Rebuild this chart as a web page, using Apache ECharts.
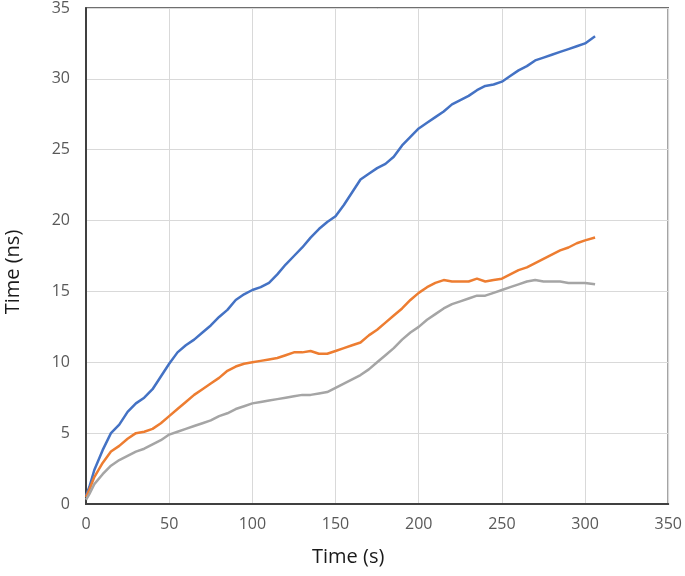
<!DOCTYPE html>
<html>
<head>
<meta charset="utf-8">
<script src="https://cdn.jsdelivr.net/npm/echarts@6/dist/echarts.min.js"></script>
<style>
  html, body { margin: 0; padding: 0; background: #fff; }
</style>
</head>
<body>
<div id="chart" style="width:685px;height:576px;"></div>
<script>
// time axis (s), shared by all three curves
const times = [0, 2, 5, 10, 15, 20, 25, 30, 35, 40, 45, 50, 55, 60, 65, 70, 75, 80, 85, 90, 95,
  100, 105, 110, 115, 120, 125, 130, 135, 140, 145, 150, 155, 160, 165, 170, 175, 180, 185, 190, 195,
  200, 205, 210, 215, 220, 225, 230, 235, 240, 245, 250, 255, 260, 265, 270, 275, 280, 285, 290, 295,
  300, 306]

const blueValues = [0.6, 1.2, 2.4, 3.8, 5.0, 5.6, 6.5, 7.1, 7.5, 8.1, 9.0, 9.9, 10.7, 11.2, 11.6, 12.1, 12.6, 13.2, 13.7, 14.4, 14.8,
  15.1, 15.3, 15.6, 16.2, 16.9, 17.5, 18.1, 18.8, 19.4, 19.9, 20.3, 21.1, 22.0, 22.9, 23.3, 23.7, 24.0, 24.5, 25.3, 25.9,
  26.5, 26.9, 27.3, 27.7, 28.2, 28.5, 28.8, 29.2, 29.5, 29.6, 29.8, 30.2, 30.6, 30.9, 31.3, 31.5, 31.7, 31.9, 32.1, 32.3,
  32.5, 33.0]

const orangeValues = [0.5, 1.0, 1.9, 2.9, 3.7, 4.1, 4.6, 5.0, 5.1, 5.3, 5.7, 6.2, 6.7, 7.2, 7.7, 8.1, 8.5, 8.9, 9.4, 9.7, 9.9,
  10.0, 10.1, 10.2, 10.3, 10.5, 10.7, 10.7, 10.8, 10.6, 10.6, 10.8, 11.0, 11.2, 11.4, 11.9, 12.3, 12.8, 13.3, 13.8, 14.4,
  14.9, 15.3, 15.6, 15.8, 15.7, 15.7, 15.7, 15.9, 15.7, 15.8, 15.9, 16.2, 16.5, 16.7, 17.0, 17.3, 17.6, 17.9, 18.1, 18.4,
  18.6, 18.8]

const grayValues = [0.3, 0.7, 1.4, 2.1, 2.7, 3.1, 3.4, 3.7, 3.9, 4.2, 4.5, 4.9, 5.1, 5.3, 5.5, 5.7, 5.9, 6.2, 6.4, 6.7, 6.9,
  7.1, 7.2, 7.3, 7.4, 7.5, 7.6, 7.7, 7.7, 7.8, 7.9, 8.2, 8.5, 8.8, 9.1, 9.5, 10.0, 10.5, 11.0, 11.6, 12.1,
  12.5, 13.0, 13.4, 13.8, 14.1, 14.3, 14.5, 14.7, 14.7, 14.9, 15.1, 15.3, 15.5, 15.7, 15.8, 15.7, 15.7, 15.7, 15.6, 15.6,
  15.6, 15.5]

const colors = ['#4472C4', '#ED7D31', '#A5A5A5']

function pairs (vals) {
  return times.map((t, i) => [t, vals[i]])
}

const chart = echarts.init(document.getElementById('chart'))
const labelFont = { color: '#595959', fontSize: 16, fontFamily: 'Open Sans' }

const option = {
  animation: false,
  grid: {
    left: 86, right: 13, top: 7, bottom: 72,
    show: true,
    borderColor: '#404040',
    borderWidth: 1.5
  },
  xAxis: {
    type: 'value',
    min: 0,
    max: 350,
    interval: 50,
    axisLine: { show: true, lineStyle: { color: '#404040', width: 2 } },
    axisTick: { show: false },
    axisLabel: Object.assign({ margin: 12 }, labelFont),
    splitLine: { show: true, lineStyle: { color: '#d9d9d9', width: 1 } }
  },
  yAxis: {
    type: 'value',
    min: 0,
    max: 35,
    interval: 5,
    axisLine: { show: true, lineStyle: { color: '#404040', width: 2 } },
    axisTick: { show: false },
    axisLabel: Object.assign({ margin: 16 }, labelFont),
    splitLine: { show: true, lineStyle: { color: '#d9d9d9', width: 1 } }
  },
  graphic: [
    {
      type: 'text',
      left: 352 - 40,
      top: 547,
      style: { text: 'Time (s)', fill: '#1a1a1a', fontSize: 20, fontFamily: 'Open Sans', width: 80, align: 'center' }
    },
    {
      type: 'text',
      x: 13,
      y: 272,
      rotation: Math.PI / 2,
      style: { text: 'Time (ns)', fill: '#1a1a1a', fontSize: 20, fontFamily: 'Open Sans', align: 'center', verticalAlign: 'middle' }
    }
  ],
  series: [
    { name: 'blue', data: pairs(blueValues) },
    { name: 'orange', data: pairs(orangeValues) },
    { name: 'gray', data: pairs(grayValues) }
  ].map((s, i) => ({
    name: s.name,
    type: 'line',
    data: s.data,
    showSymbol: false,
    smooth: false,
    lineStyle: { color: colors[i], width: 2.5 },
    itemStyle: { color: colors[i] }
  }))
}

chart.setOption(option)
</script>
</body>
</html>
